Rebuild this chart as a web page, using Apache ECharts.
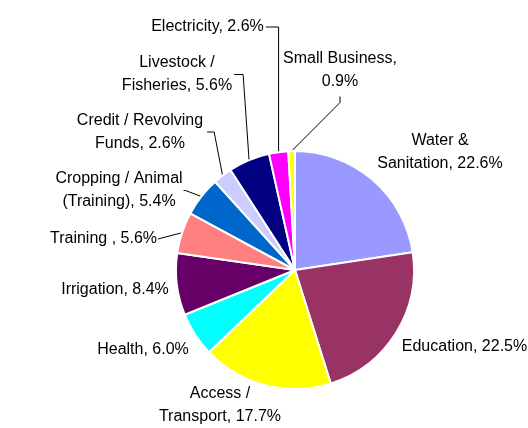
<!DOCTYPE html>
<html>
<head>
<meta charset="utf-8">
<script src="https://cdn.jsdelivr.net/npm/echarts@6/dist/echarts.min.js"></script>
<style>
  html, body { margin: 0; padding: 0; background: #ffffff; }
  #chart { width: 528px; height: 428px; }
</style>
</head>
<body>
<div id="chart"></div>
<script>
// Share of funding by sector (percent), clockwise from 12 o'clock
const categories = [
  'Water &\nSanitation', 'Education', 'Access /\nTransport', 'Health', 'Irrigation',
  'Training ', 'Cropping / Animal\n(Training)', 'Credit / Revolving\nFunds',
  'Livestock /\nFisheries', 'Electricity', 'Small Business'
];
const shares = [22.6, 22.5, 17.7, 6.0, 8.4, 5.6, 5.4, 2.6, 5.6, 2.6, 0.9];
const sliceColors = [
  '#9999FF', '#993366', '#FFFF00', '#00FFFF', '#660066',
  '#FF8080', '#0066CC', '#CCCCFF', '#000080', '#FF00FF', '#FFFF00'
];

// Label centres (px) and leader-line routing for the small slices
const labelCentres = [
  [440, 150], [464.5, 345], [220, 403], [143, 348], [115, 288],
  [103.5, 237], [119, 188.5], [140, 130], [177, 72.5], [207.5, 25], [340, 68.5]
];
const labelBaselineShift = 2;
const leaders = {
  5: { side: 'right', gap: 1, len: 0 },
  6: { side: 'right', gap: 1, len: 2 },
  7: { side: 'right', gap: 4, len: 7 },
  8: { side: 'right', gap: 2, len: 9 },
  9: { side: 'right', gap: 2, len: null },
  10: { side: 'bottom', gap: 3, len: 6 }
};

const chart = echarts.init(document.getElementById('chart'), null, { renderer: 'canvas' });

const data = categories.map((name, i) => ({
  name: name,
  value: shares[i],
  itemStyle: { color: sliceColors[i] },
  labelLine: { show: !!leaders[i] }
}));

chart.setOption({
  animation: false,
  backgroundColor: '#ffffff',
  series: [{
    type: 'pie',
    center: [295, 270],
    radius: [0, 119],
    startAngle: 90,
    clockwise: true,
    avoidLabelOverlap: false,
    data: data,
    itemStyle: { borderColor: '#ffffff', borderWidth: 2 },
    emphasis: { disabled: true },
    label: {
      show: true,
      position: 'outside',
      color: '#000000',
      fontFamily: '"Liberation Sans", Arial, sans-serif',
      fontSize: 16,
      lineHeight: 23,
      formatter: function (p) {
        const sep = p.name === 'Small Business' ? ',\n' : ', ';
        return p.name + sep + Number(p.value).toFixed(1) + '%';
      }
    },
    labelLine: {
      length: 10,
      length2: 10,
      smooth: false,
      lineStyle: { color: '#000000', width: 1 }
    },
    labelLayout: function (p) {
      const c = labelCentres[p.dataIndex];
      const pos = [c[0], c[1] + labelBaselineShift];
      const w = p.labelRect.width;
      const h = p.labelRect.height;
      const out = { x: pos[0], y: pos[1], align: 'center', verticalAlign: 'middle' };
      const lead = leaders[p.dataIndex];
      if (lead && p.labelLinePoints) {
        const anchor = [p.labelLinePoints[0][0], p.labelLinePoints[0][1]];
        let start, elbow;
        if (lead.side === 'bottom') {
          start = [pos[0], pos[1] + h / 2 + lead.gap];
          elbow = [start[0], start[1] + lead.len];
        } else {
          start = [pos[0] + w / 2 + lead.gap, pos[1]];
          elbow = [lead.len == null ? anchor[0] : start[0] + lead.len, start[1]];
        }
        out.labelLinePoints = [anchor, elbow, start];
      }
      return out;
    }
  }]
});
</script>
</body>
</html>
